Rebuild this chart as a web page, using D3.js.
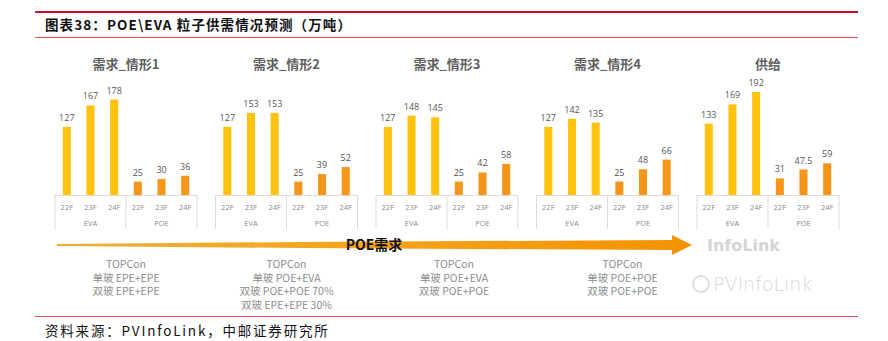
<!DOCTYPE html>
<html><head><meta charset="utf-8">
<script src="https://cdn.jsdelivr.net/npm/d3@7"></script>
<style>body{margin:0;background:#fff}svg{display:block}</style>
</head><body><svg id="c" width="888" height="341"></svg>
<script>
const panels = ["需求_情形1","需求_情形2","需求_情形3","需求_情形4","供给"];
const years = ["22F","23F","24F"];
const groups = ["EVA","POE"];
const evaValues = [[127,167,178],[127,153,153],[127,148,145],[127,142,135],[133,169,192]];
const poeValues = [[25,30,36],[25,39,52],[25,42,58],[25,48,66],[31,47.5,59]];
const notes = [
  ["TOPCon","单玻 EPE+EPE","双玻 EPE+EPE"],
  ["TOPCon","单玻 POE+EVA","双玻 POE+POE 70%","双玻 EPE+EPE 30%"],
  ["TOPCon","单玻 POE+EVA","双玻 POE+POE"],
  ["TOPCon","单玻 POE+POE","双玻 POE+POE"],
  []
];
const titleText = "图表38：POE\\EVA 粒子供需情况预测（万吨）";
const sourceText = "资料来源：PVInfoLink，中邮证券研究所";
const arrowLabel = "POE需求";

const svg = d3.select("#c");
const CJK = "'Noto Sans CJK SC','Noto Sans',sans-serif";
const colors = {EVA:"#FFC30F", POE:"#F5961B"};

// header / footer
svg.append("rect").attr("x",35).attr("y",11).attr("width",823).attr("height",2).attr("fill","#C8102E");
svg.append("text").attr("x",45).attr("y",30).attr("font-family",CJK).attr("font-weight","bold")
  .attr("font-size",13.5).attr("letter-spacing",1.1).attr("fill","#111").text(titleText);
svg.append("rect").attr("x",35).attr("y",37).attr("width",823).attr("height",1).attr("fill","#D9534F");
svg.append("rect").attr("x",35).attr("y",316).attr("width",823).attr("height",1).attr("fill","#D9534F");
svg.append("text").attr("x",45).attr("y",336).attr("font-family",CJK)
  .attr("font-size",13.5).attr("letter-spacing",1.8).attr("fill","#111").text(sourceText);

const xPanel = d3.scaleBand().domain(panels).range([55,839]).paddingInner(0.115).paddingOuter(0);
const y = d3.scaleLinear().domain([0,192]).range([195,92]);

const cats = [];
groups.forEach(g=>years.forEach(yr=>cats.push(g+"|"+yr)));

panels.forEach((p,i)=>{
  const x0 = xPanel(p), w = xPanel.bandwidth();
  const x = d3.scaleBand().domain(cats).range([x0,x0+w]).paddingInner(0.66).paddingOuter(0.33);
  const g = svg.append("g");
  const data = cats.map((c,j)=>{
    const [grp,yr] = c.split("|");
    const v = grp==="EVA" ? evaValues[i][j%3] : poeValues[i][j%3];
    return {c,grp,yr,v};
  });
  g.append("text").attr("x",x0+w/2).attr("y",69).attr("text-anchor","middle")
    .attr("font-family",CJK).attr("font-weight","bold").attr("font-size",13).attr("fill","#5f5f5f").text(p);
  g.selectAll("rect.bar").data(data).join("rect").attr("class","bar")
    .attr("x",d=>x(d.c)).attr("width",x.bandwidth())
    .attr("y",d=>y(d.v)).attr("height",d=>y(0)-y(d.v))
    .attr("fill",d=>colors[d.grp]);
  g.selectAll("text.lab").data(data).join("text").attr("class","lab")
    .attr("x",d=>x(d.c)+x.bandwidth()/2).attr("y",d=>y(d.v)-6).attr("text-anchor","middle")
    .attr("font-family","'Open Sans',sans-serif").attr("font-size",9).attr("fill","#555").text(d=>d.v);
  const line = "#dcdcdc";
  g.append("line").attr("x1",x0).attr("x2",x0+w).attr("y1",y(0)+0.5).attr("y2",y(0)+0.5).attr("stroke",line);
  [x0, x0+w/2, x0+w].forEach(xx=>{
    g.append("line").attr("x1",xx).attr("x2",xx).attr("y1",y(0)).attr("y2",229).attr("stroke",line);
  });
  g.selectAll("text.tick").data(data).join("text").attr("class","tick")
    .attr("x",d=>x(d.c)+x.bandwidth()/2).attr("y",210).attr("text-anchor","middle")
    .attr("font-family","'Open Sans',sans-serif").attr("font-size",7.5).attr("fill","#8a8a8a").text(d=>d.yr);
  groups.forEach((gr,k)=>{
    g.append("text").attr("x",x0+w/4+k*w/2).attr("y",226).attr("text-anchor","middle")
      .attr("font-family","'Open Sans',sans-serif").attr("font-size",7.5).attr("fill","#8a8a8a").text(gr);
  });
  const shift = [0,0,7,15,0][i];
  notes[i].forEach((t,k)=>{
    svg.append("text").attr("x",x0+w/2+shift).attr("y",268+k*13.5).attr("text-anchor","middle")
      .attr("font-family",CJK).attr("font-size",10.5).attr("fill","#8c8c8c").text(t);
  });
});

// arrow
const defs = svg.append("defs");
const grad = defs.append("linearGradient").attr("id","ag").attr("x1","0").attr("x2","1").attr("y1","0").attr("y2","0");
grad.append("stop").attr("offset","0").attr("stop-color","#E8B23A");
grad.append("stop").attr("offset","0.5").attr("stop-color","#F5A31A");
grad.append("stop").attr("offset","1").attr("stop-color","#F39200");
const ay = 245;
svg.append("path").attr("fill","url(#ag)")
  .attr("d",`M57,${ay-1} L300,${ay-3} L672,${ay-5} L672,${ay-10} L692,${ay} L672,${ay+10} L672,${ay+5} L300,${ay+3} L57,${ay+1} Z`);
svg.append("text").attr("x",374).attr("y",ay+5).attr("text-anchor","middle")
  .attr("font-family",CJK).attr("font-weight","bold").attr("font-size",14).attr("fill","#111").text(arrowLabel);

// watermarks
svg.append("text").attr("x",707).attr("y",251).attr("font-family","'DejaVu Sans',sans-serif").attr("font-weight","bold")
  .attr("font-size",16).attr("fill","#d4d4d4").text("InfoLink");
svg.append("circle").attr("cx",701).attr("cy",284).attr("r",8).attr("fill","none").attr("stroke","#d8d8d8").attr("stroke-width",1.5);
svg.append("text").attr("x",713).attr("y",291).attr("font-family","'DejaVu Sans',sans-serif").attr("font-weight","300")
  .attr("font-size",19).attr("fill","#d8d8d8").text("PVInfoLink");
</script></body></html>
